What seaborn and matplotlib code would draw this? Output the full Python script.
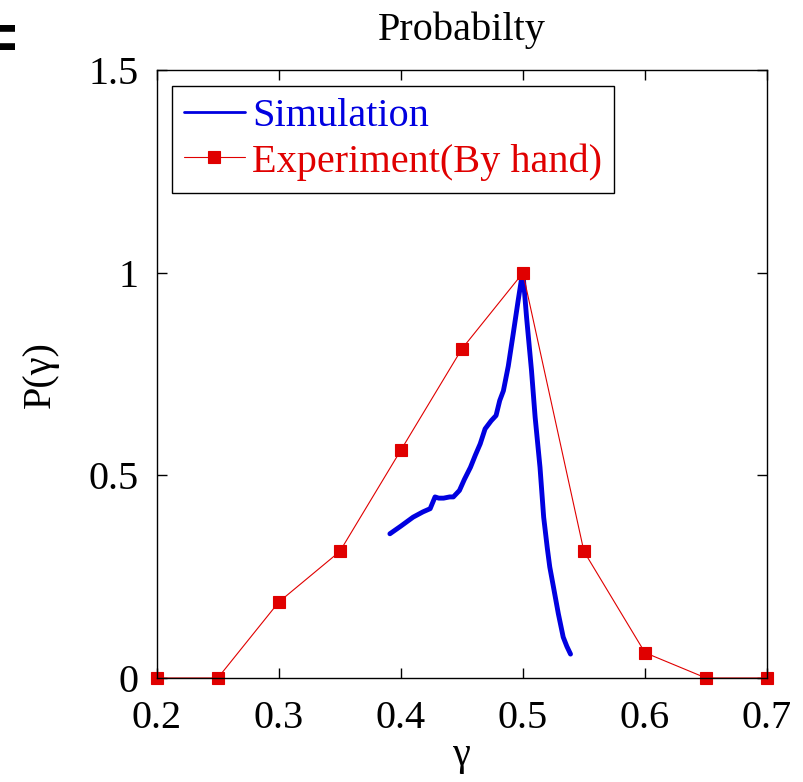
import numpy as np
import pandas as pd
import seaborn as sns
import matplotlib
import matplotlib.pyplot as plt

matplotlib.use('Agg')
sns.set_style("ticks")
plt.rcParams['font.family'] = ['Liberation Serif', 'DejaVu Serif']
plt.rcParams['text.color'] = 'black'
plt.rcParams['axes.labelcolor'] = 'black'

# -------------------------------Datos
# Simulación (curva azul)
gamma_sim = [0.391, 0.400, 0.410, 0.418, 0.424, 0.428, 0.431, 0.435, 0.440, 0.443,
             0.448, 0.452, 0.457, 0.461, 0.465, 0.469, 0.474, 0.478, 0.481, 0.484,
             0.488, 0.492, 0.496, 0.499, 0.500, 0.503, 0.507, 0.510, 0.514, 0.517,
             0.520, 0.522, 0.525, 0.529, 0.533, 0.536, 0.539]
p_sim = [0.356, 0.375, 0.397, 0.410, 0.418, 0.447, 0.444, 0.444, 0.447, 0.447,
         0.463, 0.490, 0.520, 0.550, 0.578, 0.615, 0.635, 0.648, 0.685, 0.709,
         0.770, 0.849, 0.930, 0.988, 1.000, 0.890, 0.760, 0.644, 0.520, 0.397,
         0.320, 0.274, 0.225, 0.159, 0.101, 0.078, 0.059]

# Experimento (a mano)
gamma_exp = [0.2, 0.25, 0.3, 0.35, 0.4, 0.45, 0.5, 0.55, 0.6, 0.65, 0.7]
p_exp = [0.0, 0.0, 0.1875, 0.3125, 0.5625, 0.8125, 1.0, 0.3125, 0.0625, 0.0, 0.0]

x_ticks = [0.2, 0.3, 0.4, 0.5, 0.6, 0.7]
y_ticks = [0, 0.5, 1, 1.5]
y_tick_labels = ['0', '0.5', '1', '1.5']

df_sim = pd.DataFrame({'gamma': gamma_sim, 'P': p_sim})
df_exp = pd.DataFrame({'gamma': gamma_exp, 'P': p_exp})

azul = '#0000e0'
rojo = '#e00000'

fig, ax = plt.subplots(figsize=(8.04, 7.82), dpi=100)
fig.subplots_adjust(left=0.195, right=0.954, bottom=0.133, top=0.910)

sns.lineplot(data=df_sim, x='gamma', y='P', sort=False, estimator=None,
             color=azul, linewidth=3.5, label='Simulation', ax=ax)
sns.lineplot(data=df_exp, x='gamma', y='P', sort=False, estimator=None,
             color=rojo, linewidth=0.8, marker='s', markersize=8,
             markerfacecolor=rojo, markeredgecolor=rojo, markeredgewidth=0.8,
             label='Experiment(By hand)', ax=ax, clip_on=False)

ax.set_xlim(0.2, 0.7)
ax.set_ylim(0, 1.5)
ax.set_xticks(x_ticks)
ax.set_xticklabels([f'{t:.1f}' for t in x_ticks])
ax.set_yticks(y_ticks)
ax.set_yticklabels(y_tick_labels)
ax.tick_params(direction='in', length=7, width=1, top=True, right=True,
               labelsize=29, colors='black')
ax.tick_params(axis='x', pad=16)
ax.tick_params(axis='y', pad=13)
for s in ax.spines.values():
    s.set_visible(True)
    s.set_color('black')
    s.set_linewidth(1.0)

ax.set_title('Probabilty', fontsize=29, pad=22, color='black')
ax.set_xlabel('γ', fontsize=29, labelpad=0)
ax.set_ylabel('P(γ)', fontsize=29, labelpad=21)

leg = ax.legend(loc='upper left', fontsize=29, frameon=True, fancybox=False,
                edgecolor='black', framealpha=1, borderaxespad=0.38,
                handlelength=1.5, handletextpad=0.18, labelspacing=0.2,
                borderpad=0.3)
leg.get_frame().set_linewidth(1.0)
for txt, col in zip(leg.get_texts(), [azul, rojo]):
    txt.set_color(col)
leg.get_lines()[0].set_linewidth(2.0)

# marca cortada en la esquina (etiqueta del panel)
fig.text(-0.063, 0.948, '=', fontsize=64, family='DejaVu Sans',
         va='center', ha='left', color='black')

plt.savefig('out.png', dpi=100)
plt.close()
